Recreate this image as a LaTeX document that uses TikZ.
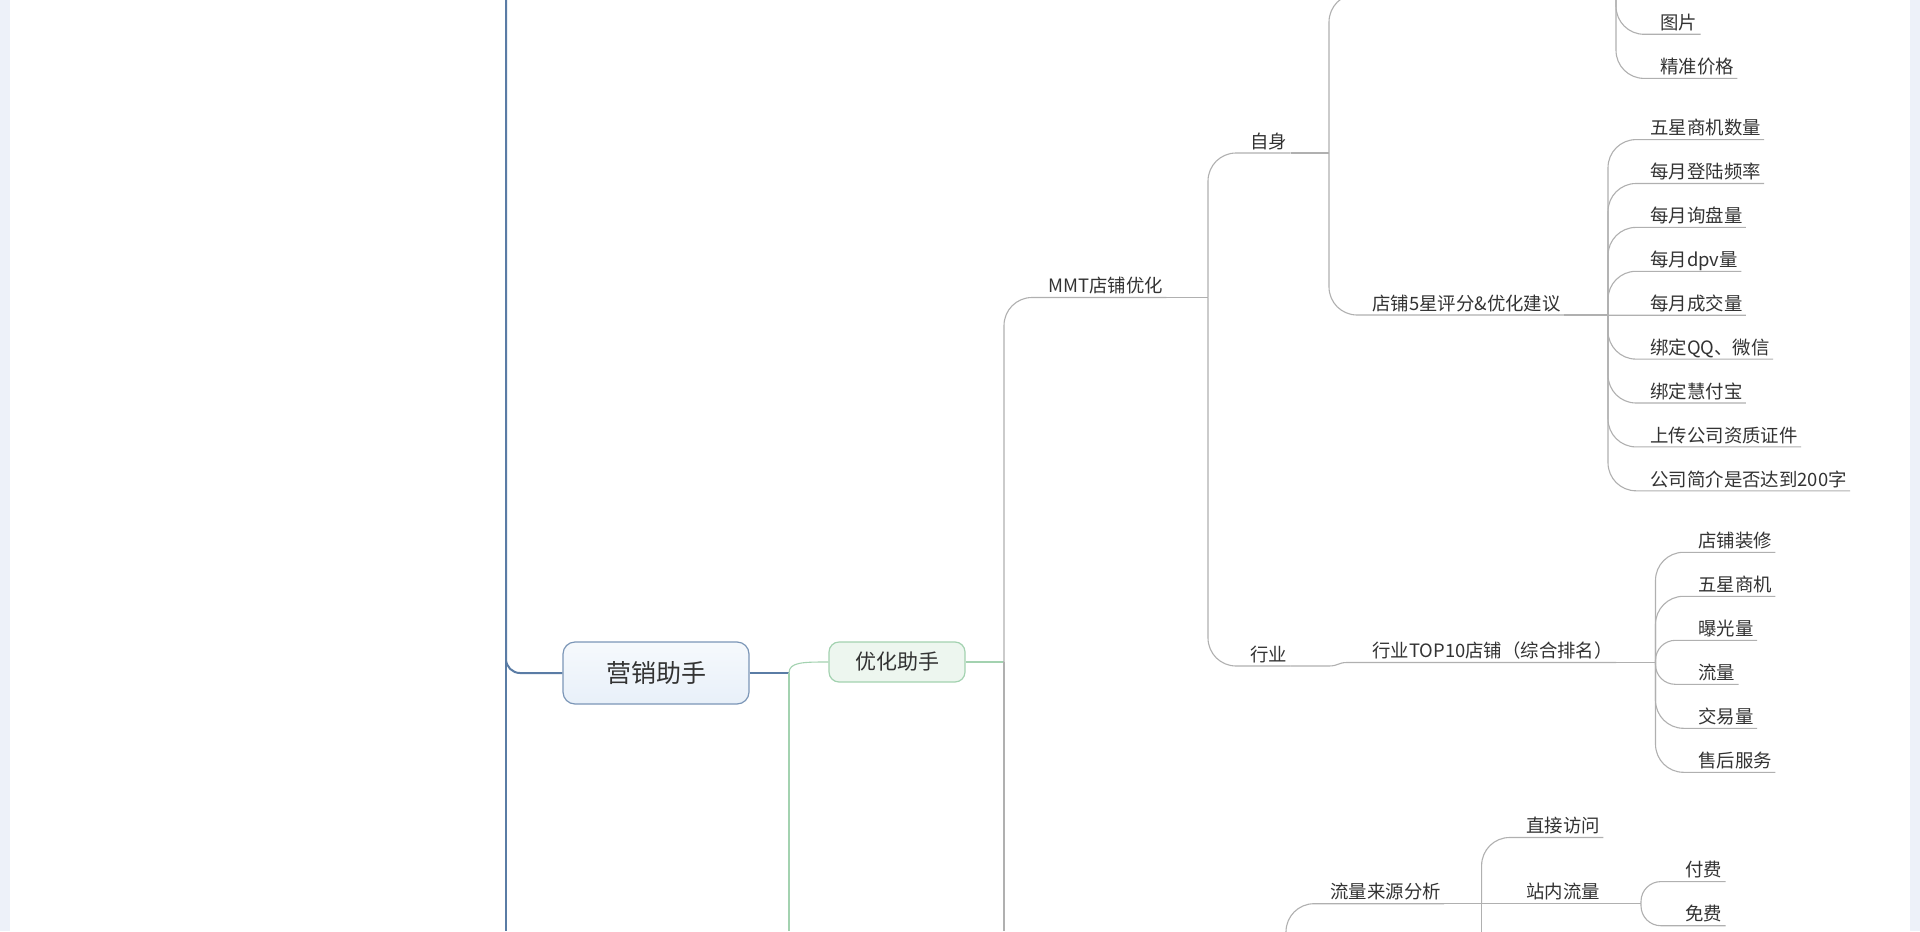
\documentclass[tikz,border=0pt]{standalone}
\usepackage{fontspec}
\setmainfont{Noto Sans CJK SC}
\definecolor{marco}{HTML}{EDF1F9}
\definecolor{texto}{HTML}{333333}
\definecolor{azul}{HTML}{5A7CA5}
\definecolor{celeste}{HTML}{E8F0F9}
\definecolor{verde}{HTML}{A3D2B0}
\definecolor{gris}{HTML}{B0B0B0}
\begin{document}
\begin{tikzpicture}[x = 0.5pt, y = -0.5pt,
  tema/.style = {font = \fontsize{9.2pt}{11pt}\selectfont, text = texto, anchor = south west,
    inner xsep = 1.5pt, inner ysep = 1pt, text height = 7.5pt, text depth = 1.2pt},
  caja azul/.style = {draw = azul!80, line width = 0.6, rounded corners = 6pt, top color = celeste!40,
    bottom color = celeste, text = texto, minimum width = 93pt, minimum height = 31pt,
    font = \fontsize{12.5pt}{14pt}\selectfont},
  caja verde/.style = {draw = verde, line width = 0.6, rounded corners = 5pt, fill = verde!20,
    text = texto, minimum width = 68pt, minimum height = 20pt, font = \fontsize{10.5pt}{12pt}\selectfont},
  rama azul/.style = {draw = azul, line width = 1},
  rama verde/.style = {draw = verde, line width = 0.55},
  rama/.style = {draw = gris, line width = 0.55, rounded corners = 14pt}
]
\useasboundingbox (0, 0) rectangle (1920, 931);
\clip (0, 0) rectangle (1920, 931);
\fill[white] (0, 0) rectangle (1920, 931);
\fill[marco] (0, 0) rectangle (10, 931);
\fill[marco] (1910, 0) rectangle (1920, 931);

% tronco
\coordinate (eje) at (506, 0);
\coordinate (eje-fin) at (506, 931);
\node[caja azul] (asistente) at (656, 673) {营销助手};
\draw[rama azul, rounded corners = 7pt] (eje) |- (asistente.west);
\draw[rama azul] (eje) -- (eje-fin);

\coordinate (bif) at (789, 673);
\coordinate (bif-fin) at (789, 931);
\node[caja verde] (optimiza) at (897, 662) {优化助手};
\draw[rama azul] (asistente.east) -- (bif);
\draw[rama verde] (bif) .. controls +(0, -11) and +(-25, 0) .. (optimiza.west);
\draw[rama verde] (bif) -- (bif-fin);

\coordinate (nudo) at (1004, 662);
\coordinate (nudo-fin) at (1004, 931);
\draw[rama verde] (optimiza.east) -- (nudo);
\node[tema] (mmt) at (1045, 297.5) {MMT店铺优化};
\draw[rama] (nudo) |- (mmt.south east);
\draw[rama] (nudo) -- (nudo-fin);

\coordinate (mmt-j) at (1208, 297.5);
\draw[rama] (mmt.south east) -- (mmt-j);
\node[tema] (propio) at (1247, 153) {自身};
\node[tema] (industria) at (1247, 666) {行业};
\draw[rama] (mmt-j) |- (propio.south east);
\draw[rama] (mmt-j) |- (industria.south east);

% rama de arriba (fuera del cuadro)
\coordinate (propio-j) at (1329, 153);
\coordinate (arriba) at (1616, -6);
\draw[rama] (propio.south east) -- (propio-j);
\draw[rama] (propio-j) |- (arriba);
\node[tema] (imagen) at (1657, 34.3) {图片};
\node[tema] (precio) at (1657, 78.4) {精准价格};
\draw[rama] (arriba) |- (imagen.south east);
\draw[rama] (arriba) |- (precio.south east);

\node[tema] (estrellas) at (1369, 315) {店铺5星评分\&优化建议};
\coordinate (estrellas-j) at (1608, 315);
\draw[rama] (propio-j) |- (estrellas.south east);
\draw[rama] (estrellas.south east) -- (estrellas-j);
\foreach \t [count = \i] in {五星商机数量, 每月登陆频率, 每月询盘量, 每月dpv量, 每月成交量,
  绑定QQ、微信, 绑定慧付宝, 上传公司资质证件, 公司简介是否达到200字}{
  \pgfmathsetmacro{\y}{139.6 + 43.9*(\i - 1)}
  \pgfmathsetmacro{\r}{min(14, 0.45*abs(\y - 315))}
  \node[tema] (e\i) at (1647, \y) {\t};
  \draw[rama, rounded corners = \r pt] (estrellas-j) |- (e\i.south east);
}

\coordinate (industria-j) at (1329, 666);
\coordinate (top-in) at (1347, 662.5);
\node[tema] (top) at (1369, 662.5) {行业TOP10店铺（综合排名）};
\coordinate (top-j) at (1655.5, 662.5);
\draw[rama, sharp corners] (industria.south east) -- (industria-j) .. controls +(9, 0) and +(-9, 0) .. (top-in) -- (top.south east);
\draw[rama] (top.south east) -- (top-j);
\foreach \t [count = \i] in {店铺装修, 五星商机, 曝光量, 流量, 交易量, 售后服务}{
  \pgfmathsetmacro{\y}{552.3 + 44*(\i - 1)}
  \pgfmathsetmacro{\r}{min(14, 0.45*abs(\y - 662.5))}
  \node[tema] (t\i) at (1695, \y) {\t};
  \draw[rama, rounded corners = \r pt] (top-j) |- (t\i.south east);
}

% rama de abajo
\coordinate (abajo) at (1286, 1000);
\node[tema] (trafico) at (1327, 903.7) {流量来源分析};
\draw[rama] (abajo) |- (trafico.south east);
\coordinate (trafico-j) at (1481.6, 903.7);
\coordinate (trafico-fin) at (1481.6, 960);
\draw[rama, sharp corners] (trafico.south east) -- (trafico-j) -- (trafico-fin);
\node[tema] (directo) at (1523, 837.5) {直接访问};
\node[tema] (interno) at (1523, 903.7) {站内流量};
\draw[rama] (trafico-j) |- (directo.south east);
\draw[rama] (trafico-j) -- (interno.south east);
\coordinate (interno-j) at (1641, 903.7);
\draw[rama] (interno.south east) -- (interno-j);
\node[tema] (pago) at (1682, 881.6) {付费};
\node[tema] (gratis) at (1682, 925.7) {免费};
\draw[rama, rounded corners = 9.9pt] (interno-j) |- (pago.south east);
\draw[rama, rounded corners = 9.9pt] (interno-j) |- (gratis.south east);
\end{tikzpicture}
\end{document}
